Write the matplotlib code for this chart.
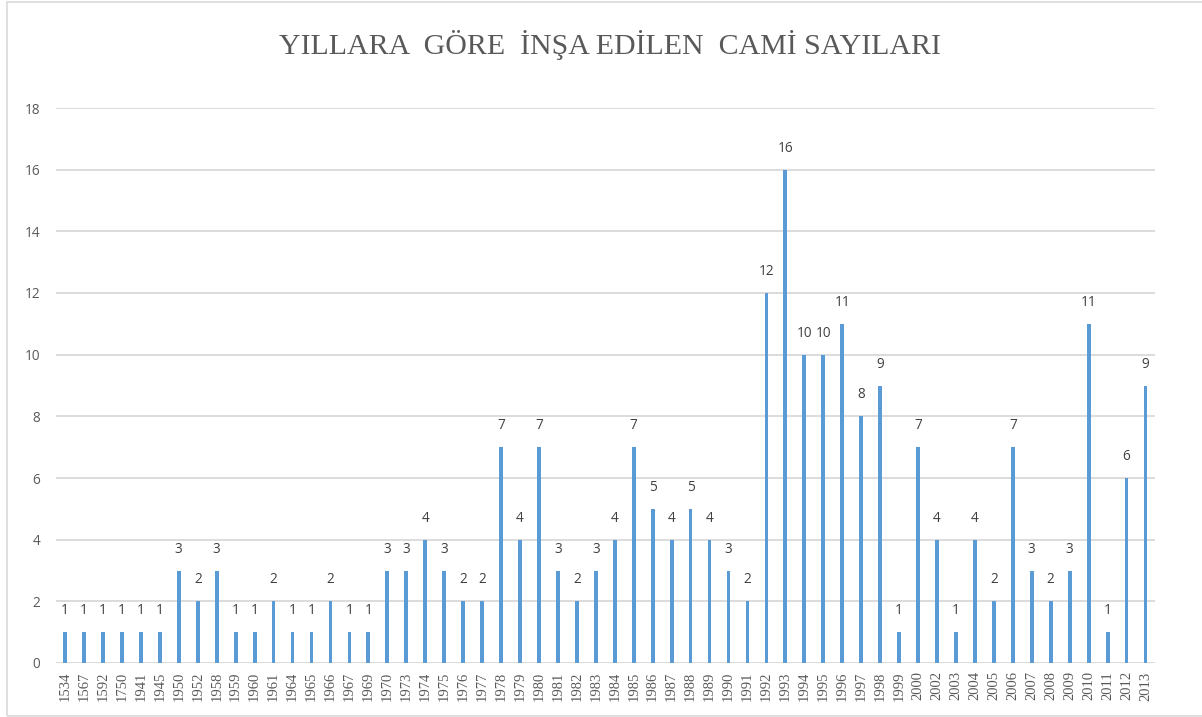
import matplotlib
matplotlib.use("Agg")
import matplotlib.pyplot as plt
from matplotlib.patches import Rectangle

years = ["1534", "1567", "1592", "1750", "1941", "1945", "1950", "1952", "1958", "1959",
         "1960", "1961", "1964", "1965", "1966", "1967", "1969", "1970", "1973", "1974",
         "1975", "1976", "1977", "1978", "1979", "1980", "1981", "1982", "1983", "1984",
         "1985", "1986", "1987", "1988", "1989", "1990", "1991", "1992", "1993", "1994",
         "1995", "1996", "1997", "1998", "1999", "2000", "2002", "2003", "2004", "2005",
         "2006", "2007", "2008", "2009", "2010", "2011", "2012", "2013"]
counts = [1, 1, 1, 1, 1, 1, 3, 2, 3, 1,
          1, 2, 1, 1, 2, 1, 1, 3, 3, 4,
          3, 2, 2, 7, 4, 7, 3, 2, 3, 4,
          7, 5, 4, 5, 4, 3, 2, 12, 16, 10,
          10, 11, 8, 9, 1, 7, 4, 1, 4, 2,
          7, 3, 2, 3, 11, 1, 6, 9]
yticks = [0, 2, 4, 6, 8, 10, 12, 14, 16, 18]
title = "YILLARA  GÖRE  İNŞA EDİLEN  CAMİ SAYILARI"

W, H = 1202, 717
fig = plt.figure(figsize=(W / 100, H / 100), dpi=100)
fig.patches.append(Rectangle((7 / W, 1 / H), 1.2, (H - 2.5) / H, transform=fig.transFigure,
                             fill=False, edgecolor="#D9D9D9", linewidth=1.2))

left, right, top, bottom = 55.6, 1155, 108, 663
ax = fig.add_axes([left / W, (H - bottom) / H, (right - left) / W, (bottom - top) / H])

x = list(range(len(years)))
ax.bar(x, counts, width=0.2, color="#5B9BD5", zorder=3)
for xi, v in zip(x, counts):
    ax.text(xi, v + 0.45, str(v), ha="center", va="bottom", fontsize=9.8,
            color="#404040", family="Open Sans")

ax.set_xlim(-0.5, len(years) - 0.5)
ax.set_ylim(0, 18)
ax.set_yticks(yticks)
ax.set_yticklabels([str(t) for t in yticks], family="Open Sans", fontsize=9.8, color="#595959")
ax.set_xticks(x)
ax.set_xticklabels(years, rotation=90, family="Liberation Serif", fontsize=10.5, color="#595959")
ax.tick_params(axis="both", length=0)
ax.tick_params(axis="y", pad=11)
ax.tick_params(axis="x", pad=6)
ax.grid(axis="y", color="#D9D9D9", linewidth=1.3, zorder=0)
for s in ax.spines.values():
    s.set_visible(False)

fig.text(610 / W, 1 - 45 / H, title, ha="center", va="center", family="Liberation Serif",
         fontsize=21.5, color="#595959")

fig.savefig("out.png", dpi=100)
